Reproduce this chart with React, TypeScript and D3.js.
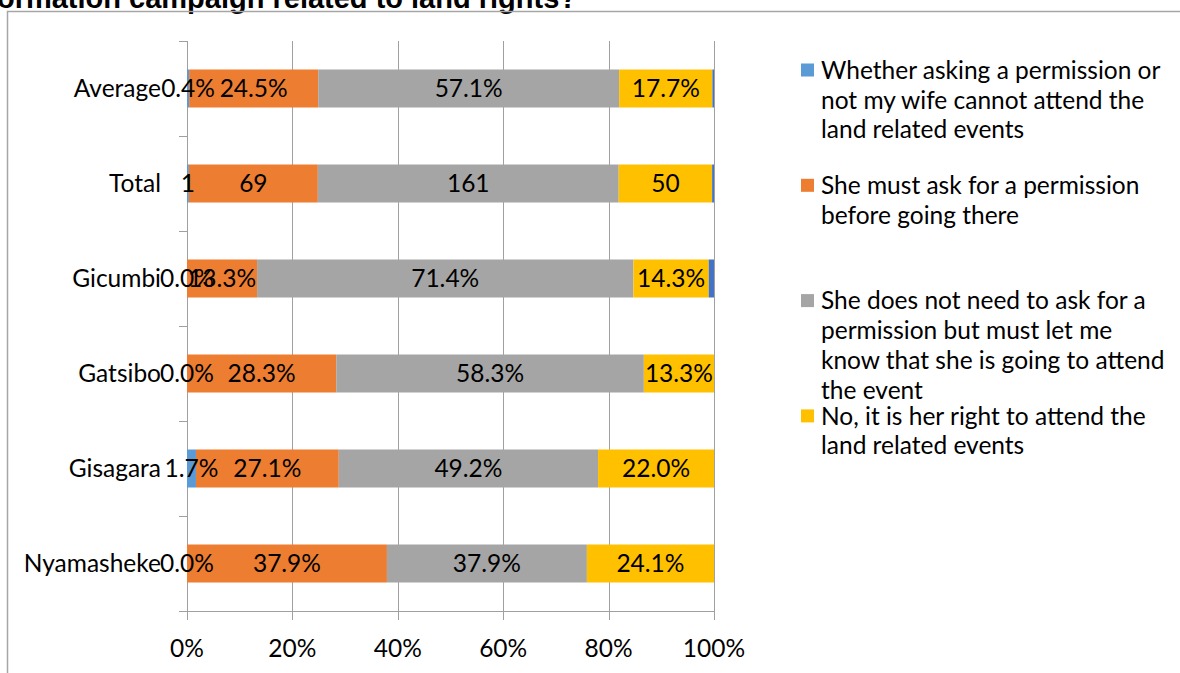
import React from "react";
import * as d3 from "d3";

const categories = ["Average", "Total", "Gicumbi", "Gatsibo", "Gisagara", "Nyamasheke"];
const seriesNames = [
  "Whether asking a permission or not my wife cannot attend the land related events",
  "She must ask for a permission before going there",
  "She does not need to ask for a permission but must let me know that she is going to attend the event",
  "No, it is her right to attend the land related events",
  "Other",
];
const legendLines = [
  ["Whether asking a permission or", "not my wife cannot attend the", "land related events"],
  ["She must ask for a permission", "before going there"],
  ["She does not need to ask for a", "permission but must let me", "know that she is going to attend", "the event"],
  ["No, it is her right to attend the", "land related events"],
];
const seriesColors = ["#5B9BD5", "#ED7D31", "#A5A5A5", "#FFC000", "#4472C4"];
// values per category, in series order
const noPermission = [0.4, 1, 0.0, 0.0, 1.7, 0.0];
const mustAsk = [24.5, 69, 13.3, 28.3, 27.1, 37.9];
const mustLetKnow = [57.1, 161, 71.4, 58.3, 49.2, 37.9];
const herRight = [17.7, 50, 14.3, 13.3, 22.0, 24.1];
const other = [0.3, 1, 1.0, 0, 0, 0];
const isCount = [false, true, false, false, false, false];
const xTicks = [0, 0.2, 0.4, 0.6, 0.8, 1.0];
const titleText = "Information campaign related to land rights?";

const W = 1180;
const H = 673;

export default function App() {
  const series = [noPermission, mustAsk, mustLetKnow, herRight, other];
  const x = d3.scaleLinear().domain([0, 1]).range([187, 714]);
  const y = d3.scaleBand<string>().domain(categories).range([41, 611]).paddingInner(0.6).paddingOuter(0.3);
  const step = y.step();
  const rows = categories.map((c, ci) => {
    const vals = series.map((s) => s[ci]);
    const total = d3.sum(vals);
    let acc = 0;
    return vals.map((v, si) => {
      const x0 = acc / total;
      acc += v;
      const x1 = acc / total;
      return { c, ci, si, v, x0, x1 };
    });
  });
  const fontMain = "Lato, 'Noto Sans', sans-serif";
  const fs = 24.5;
  const boundaries = d3.range(categories.length + 1).map((i) => 41 + i * step);
  const legendStartY = 70;
  const legendEntryGap = 115.3;
  const lineH = 29.7;
  return (
    <svg width={W} height={H} style={{ display: "block", position: "absolute", left: 0, top: 0 }}>
      <rect x={0} y={0} width={W} height={H} fill="#fff" />
      <text x={577} y={8} textAnchor="end" fontFamily="'Liberation Sans', Arial, sans-serif" fontWeight="bold" fontSize={29} fill="#000">
        {titleText}
      </text>
      <rect x={7.5} y={11.5} width={W + 20} height={H + 20} fill="none" stroke="#a6a6a6" strokeWidth={1.5} />
      {/* gridlines */}
      {xTicks.map((t) => (
        <line key={t} x1={Math.round(x(t)) + 0.5} x2={Math.round(x(t)) + 0.5} y1={41} y2={620} stroke="#a0a0a0" strokeWidth={1} />
      ))}
      {/* y axis */}
      <line x1={187.5} x2={187.5} y1={41} y2={611} stroke="#a0a0a0" />
      {boundaries.map((b, i) => (
        <line key={i} x1={179} x2={187} y1={Math.round(b) + 0.5} y2={Math.round(b) + 0.5} stroke="#a0a0a0" />
      ))}
      <line x1={179} x2={714} y1={611.5} y2={611.5} stroke="#a0a0a0" />
      {/* bars */}
      {rows.map((row) =>
        row.map((d) =>
          d.x1 > d.x0 ? (
            <rect
              key={`${d.ci}-${d.si}`}
              x={x(d.x0)}
              y={y(d.c)!}
              width={x(d.x1) - x(d.x0)}
              height={y.bandwidth()}
              fill={seriesColors[d.si]}
            />
          ) : null
        )
      )}
      {/* data labels */}
      {rows.map((row) =>
        row.slice(0, 4).map((d) => (
          <text
            key={`l${d.ci}-${d.si}`}
            x={(x(d.x0) + x(d.x1)) / 2}
            y={y(d.c)! + y.bandwidth() / 2}
            dy="0.36em"
            textAnchor="middle"
            fontFamily={fontMain}
            fontSize={fs}
            fill="#000"
          >
            {isCount[d.ci] ? d3.format("d")(d.v) : d3.format(".1f")(d.v) + "%"}
          </text>
        ))
      )}
      {/* category labels */}
      {categories.map((c) => (
        <text key={c} x={161} y={y(c)! + y.bandwidth() / 2} dy="0.36em" textAnchor="end" fontFamily={fontMain} fontSize={fs} fill="#000">
          {c}
        </text>
      ))}
      {/* x tick labels */}
      {xTicks.map((t) => (
        <text key={`t${t}`} x={x(t)} y={648} dy="0.36em" textAnchor="middle" fontFamily={fontMain} fontSize={fs} fill="#000">
          {d3.format(".0%")(t)}
        </text>
      ))}
      {/* legend */}
      {legendLines.map((lines, i) => {
        const y0 = legendStartY + i * legendEntryGap;
        return (
          <g key={`lg${i}`}>
            <rect x={801} y={y0 - 6.5} width={13} height={13} fill={seriesColors[i]} />
            {lines.map((ln, j) => (
              <text key={j} x={821} y={y0 + j * lineH} dy="0.36em" fontFamily={fontMain} fontSize={fs} fill="#000">
                {ln}
              </text>
            ))}
          </g>
        );
      })}
    </svg>
  );
}
